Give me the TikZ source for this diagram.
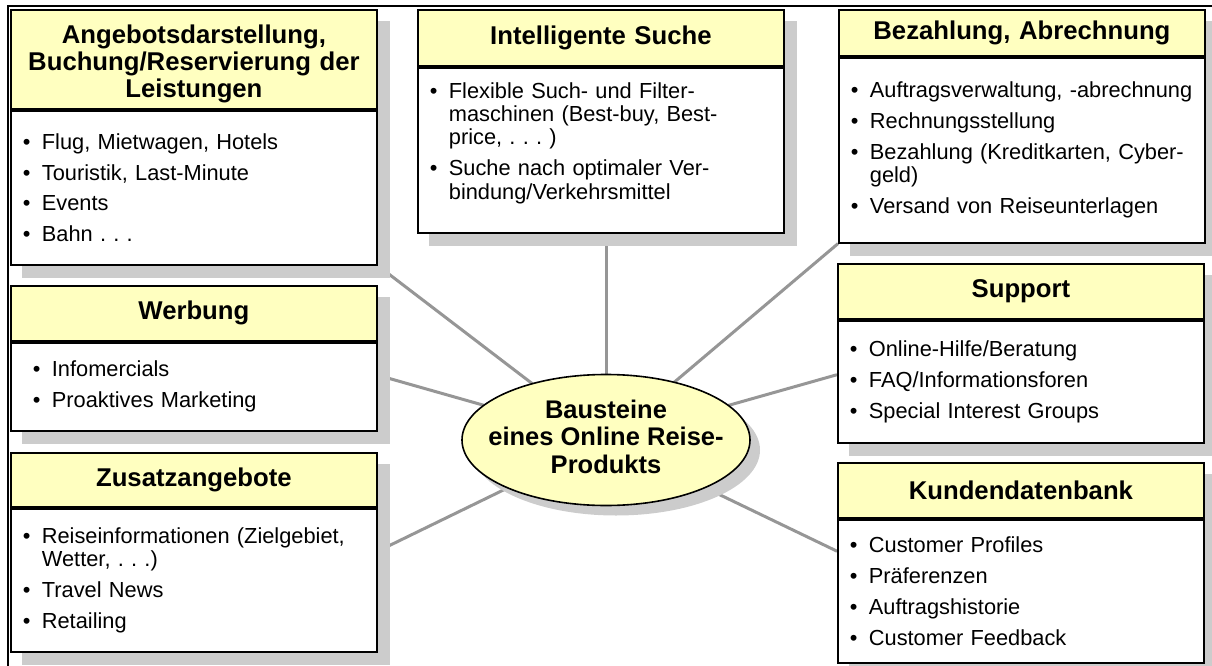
\documentclass[tikz,border=0pt]{standalone}
\usepackage{fontspec}
\setmainfont{Liberation Sans}
\usepackage{tikz}
\usetikzlibrary{shapes,positioning,shadows}

\definecolor{headyellow}{RGB}{255,255,192}
\definecolor{shadegray}{RGB}{204,204,204}
\definecolor{linkgray}{RGB}{150,150,150}

\pgfdeclarelayer{background}
\pgfsetlayers{background,main}

\newcommand{\bul}{\makebox[19pt][l]{\textbullet}}
\newcommand{\cont}{\hspace*{19pt}}
\frenchspacing

\begin{document}
\begin{tikzpicture}
  [x=1pt,y=-1pt,
 head/.style={
  rectangle,
  draw=black,
  line width=1.8pt, % border
  fill=headyellow,
  inner sep=0pt,
  minimum width=366pt,
  text width=350pt,
  align=center,
  anchor=north west,
  font=\fontsize{25.7}{26.7}\selectfont\bfseries},
 body/.style={
  rectangle,
  draw=black,
  line width=1.8pt, % border
  fill=white,
  inner xsep=12pt,
  inner ysep=0pt,
  text width=342pt,
  align=left,
  font=\fontsize{21.8}{23.4}\selectfont},
 hub/.style={
  ellipse,
  draw=black,
  line width=1.6pt,
  fill=headyellow,
  minimum width=288pt,
  minimum height=131pt,
  inner sep=0pt,
  font=\fontsize{25.5}{27.5}\selectfont\bfseries,
  drop shadow={shadow xshift=10pt,shadow yshift=-10pt,fill=shadegray,opacity=1}},
 link/.style={draw=linkgray,line width=3pt},
 boxshadow/.style={fill=shadegray}]
\useasboundingbox (0,0) rectangle (1212,666);
\draw[line width=2.5pt] (8,666) -- (8,6) -- (1212,6);

\node (head1) [head, minimum height=99pt] at (10,9) {\rule{0pt}{28pt}Angebotsdarstellung,\\Buchung/Reservierung der\\Leistungen};
\node (body1) [body, minimum height=154pt, below=0pt of head1] {\bul Flug, Mietwagen, Hotels\\[7.5pt]\bul Touristik, Last-Minute\\[7.5pt]\bul Events\\[7.5pt]\bul Bahn . . .};
\node (head2) [head, minimum height=56pt] at (417,9) {Intelligente Suche};
\node (body2) [body, minimum height=165pt, below=0pt of head2] {\bul Flexible Such- und Filter-\\\cont maschinen (Best-buy, Best-\\\cont price, . . . )\\[7.5pt]\bul Suche nach optimaler Ver-\\\cont bindung/Verkehrsmittel\rule[-19pt]{0pt}{1pt}};
\node (head3) [head, minimum height=46pt] at (838,9) {Bezahlung, Abrechnung};
\node (body3) [body, minimum height=185pt, below=0pt of head3] {\bul Auftragsverwaltung, -abrechnung\\[7.5pt]\bul Rechnungsstellung\\[7.5pt]\bul Bezahlung (Kreditkarten, Cyber-\\\cont geld)\\[7.5pt]\bul Versand von Reiseunterlagen};
\node (head4) [head, minimum height=55pt] at (10,285) {Werbung};
\node (body4) [body, minimum height=88pt, inner xsep=22pt, text width=322pt, below=0pt of head4] {\bul Infomercials\\[7.5pt]\bul Proaktives Marketing};
\node (head5) [head, minimum height=54pt] at (10,452) {Zusatzangebote};
\node (body5) [body, minimum height=143pt, below=0pt of head5] {\bul Reiseinformationen (Zielgebiet,\\\cont Wetter, . . .)\\[7.5pt]\bul Travel News\\[7.5pt]\bul Retailing};
\node (head6) [head, minimum height=55pt] at (837,263) {Support};
\node (body6) [body, minimum height=122pt, below=0pt of head6] {\bul Online-Hilfe/Beratung\\[7.5pt]\bul FAQ/Informationsforen\\[7.5pt]\bul Special Interest Groups};
\node (head7) [head, minimum height=55pt] at (837,462) {Kundendatenbank};
\node (body7) [body, minimum height=143pt, below=0pt of head7] {\bul Customer Profiles\\[7.5pt]\bul Pr\"aferenzen\\[7.5pt]\bul Auftragshistorie\\[7.5pt]\bul Customer Feedback};

\node (hub) [hub] at (606,440) {\makebox[150pt]{\begin{tabular}{@{}c@{}}Bausteine\\eines Online Reise-\\Produkts\end{tabular}}};

\begin{pgfonlayer}{background}
\path (hub.center) edge[link] (body1.south east);
\path (hub.center) edge[link] (hub.center |- body2.south);
\path (hub.center) edge[link] (body3.south west);
\path (hub.center) edge[link] ([yshift=11.5pt]body4.east);
\path (hub.center) edge[link] ([yshift=29pt]body5.east);
\path (hub.center) edge[link] ([yshift=7pt]body6.west);
\path (hub.center) edge[link] ([yshift=40pt]body7.west);
\foreach \n in {1,...,7}
  \fill[boxshadow] ([shift={(12,12)}]head\n.north west) rectangle ([shift={(12,12)}]body\n.south east);
\end{pgfonlayer}
\end{tikzpicture}
\end{document}
